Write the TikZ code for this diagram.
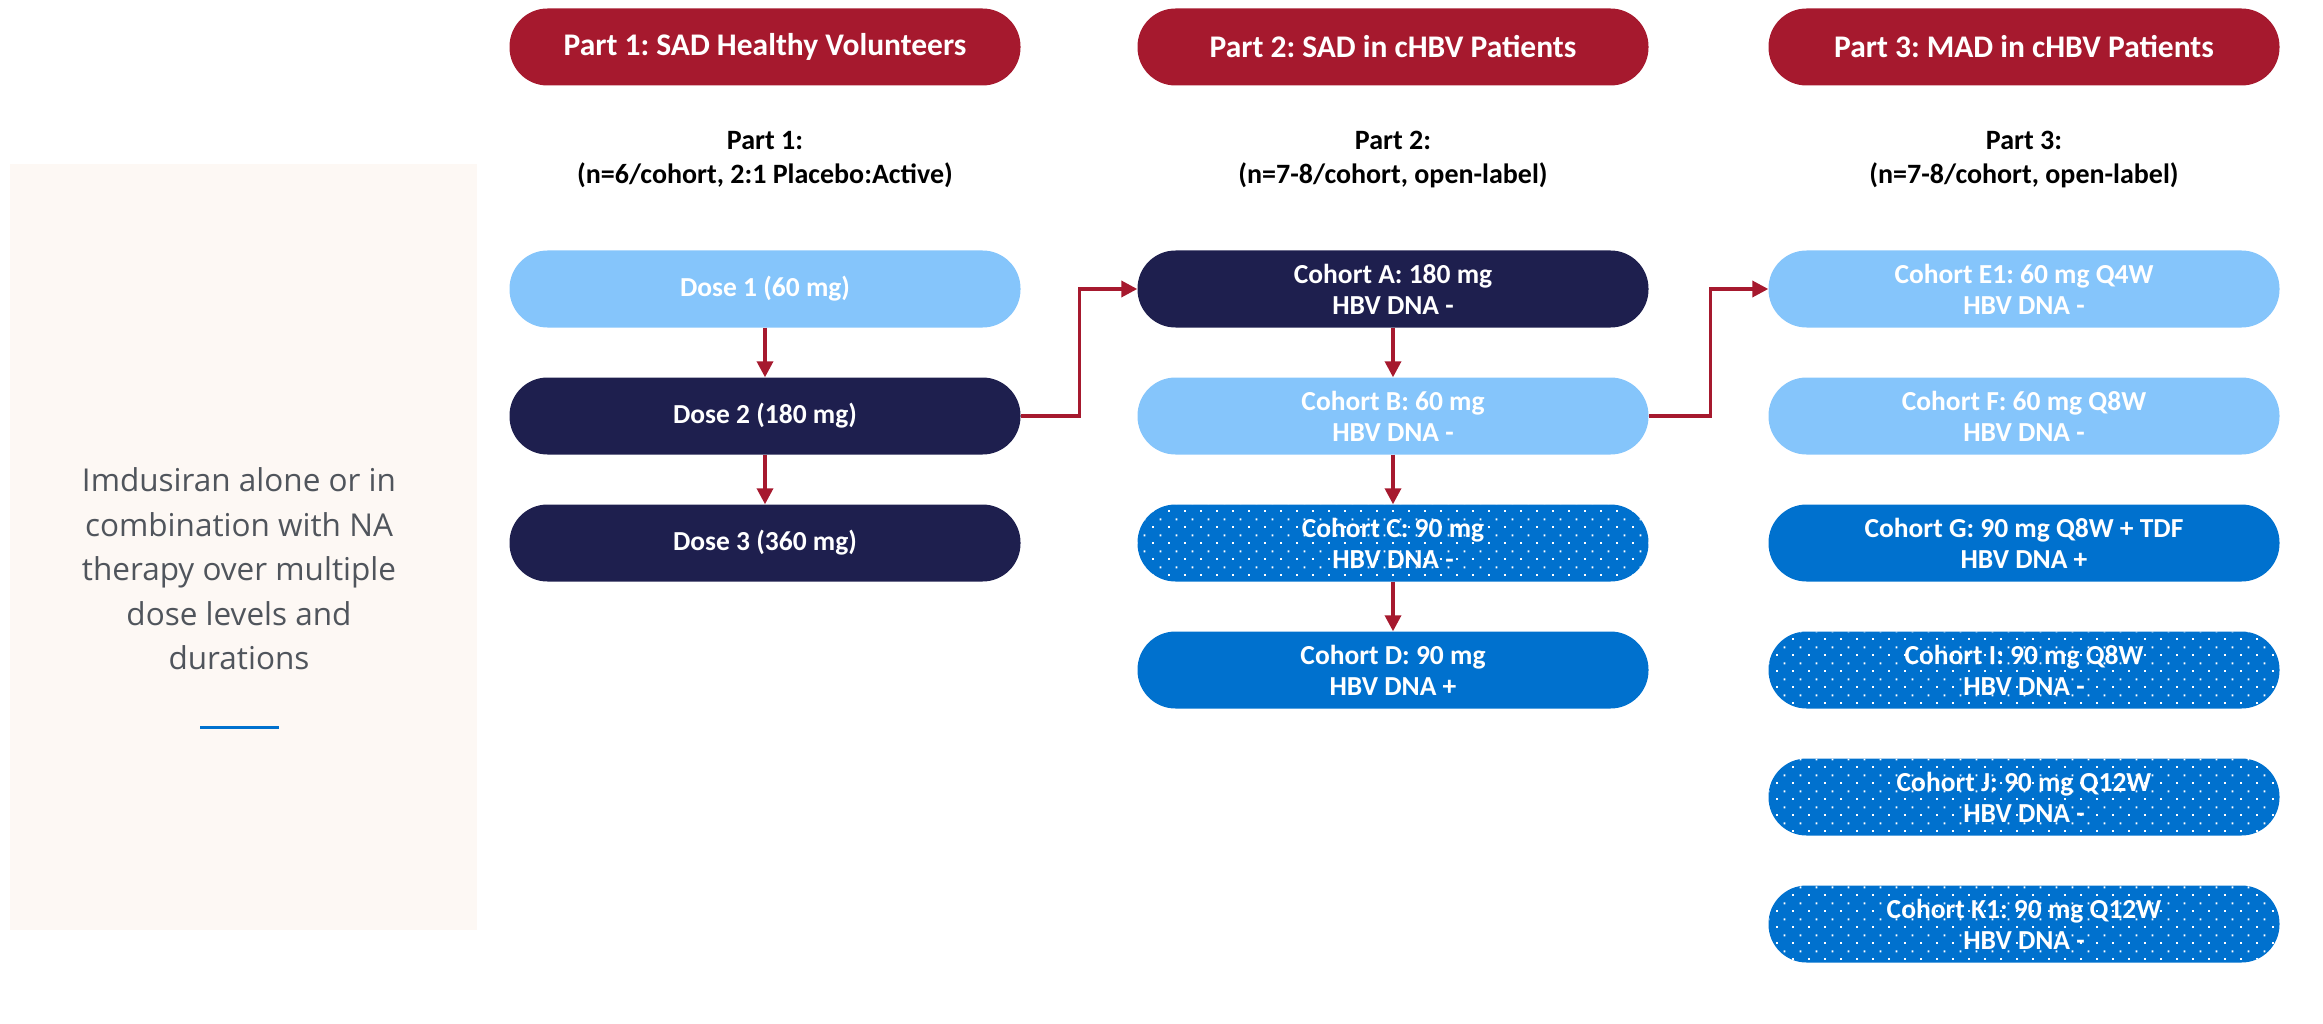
\documentclass[tikz,border=0pt]{standalone}
\usepackage{fontspec}
\setmainfont{Carlito}
\newfontfamily\sidefont{Open Sans}
\usetikzlibrary{arrows.meta,patterns.meta}
\frenchspacing

\definecolor{hdred}{RGB}{166,25,46}
\definecolor{navy}{RGB}{30,31,78}
\definecolor{skyblue}{RGB}{133,197,251}
\definecolor{midblue}{RGB}{0,113,206}
\definecolor{panel}{RGB}{253,248,244}
\definecolor{sidegray}{RGB}{80,85,92}

% white dot grid used on the speckled cohorts
\tikzdeclarepattern{
  name=dotgrid,
  type=uncolored,
  bounding box={(0pt,0pt) and (16pt,16pt)},
  tile size={(16pt,16pt)},
  code={
    \fill (0pt,0pt) rectangle (2pt,2pt);
    \fill (8pt,8pt) rectangle (10pt,10pt);
  }
}

\begin{document}
\begin{tikzpicture}[x=1pt,y=-1pt,
    pill/.style={rectangle,rounded corners=38pt,minimum width=511pt,minimum height=77pt,
      inner sep=0pt,text=white,align=center,font=\bfseries\fontsize{27.5}{31}\selectfont},
    head/.style={pill,fill=hdred,font=\bfseries\fontsize{31.5}{34}\selectfont},
    sub/.style={align=center,font=\bfseries\fontsize{28}{34}\selectfont},
    light/.style={pill,fill=skyblue},
    dark/.style={pill,fill=navy},
    mid/.style={pill,fill=midblue},
    speckled/.style={mid,postaction={pattern=dotgrid,pattern color=white}},
    link/.style={draw=hdred,line width=3.5pt,-{Triangle[width=16pt,length=16pt]}}]
  \useasboundingbox (0,0) rectangle (2323,1024);

  % side panel
  \fill[panel] (10,164) rectangle (477,930);
  \node[text=sidegray,align=center,font=\sidefont\fontsize{31.5}{44.5}\selectfont] (note) at (239,569)
    {Imdusiran alone or in\\combination with NA\\therapy over multiple\\dose levels and\\durations};
  \draw[midblue,line width=3pt] (200,727) -- (279,727);

  % headers
  \node[head] (h1) at (765,47) {Part 1: SAD Healthy Volunteers};
  \node[head] (h2) at (1393,47) {Part 2: SAD in cHBV Patients};
  \node[head] (h3) at (2024,47) {Part 3: MAD in cHBV Patients};

  \node[sub] (s1) at (765,160) {Part 1:\\(n=6/cohort, 2:1 Placebo:Active)};
  \node[sub] (s2) at (1393,160) {Part 2:\\(n=7-8/cohort, open-label)};
  \node[sub] (s3) at (2024,160) {Part 3:\\(n=7-8/cohort, open-label)};

  % part 1
  \node[light] (d1) at (765,289) {Dose 1 (60 mg)};
  \node[dark] (d2) at (765,416) {Dose 2 (180 mg)};
  \node[dark] (d3) at (765,543) {Dose 3 (360 mg)};

  % part 2
  \node[dark] (ca) at (1393,289) {Cohort A: 180 mg\\HBV DNA -};
  \node[light] (cb) at (1393,416) {Cohort B: 60 mg\\HBV DNA -};
  \node[speckled] (cc) at (1393,543) {Cohort C: 90 mg\\HBV DNA -};
  \node[mid] (cd) at (1393,670) {Cohort D: 90 mg\\HBV DNA +};

  % part 3
  \node[light] (ce) at (2024,289) {Cohort E1: 60 mg Q4W\\HBV DNA -};
  \node[light] (cf) at (2024,416) {Cohort F: 60 mg Q8W\\HBV DNA -};
  \node[mid] (cg) at (2024,543) {Cohort G: 90 mg Q8W + TDF\\HBV DNA +};
  \node[speckled] (ci) at (2024,670) {Cohort I: 90 mg Q8W\\HBV DNA -};
  \node[speckled] (cj) at (2024,797) {Cohort J: 90 mg Q12W\\HBV DNA -};
  \node[speckled] (ck) at (2024,924) {Cohort K1: 90 mg Q12W\\HBV DNA -};

  \draw[link] (d1) -- (d2);
  \draw[link] (d2) -- (d3);
  \draw[link] (d2.east) -- ++(59,0) |- (ca.west);
  \draw[link] (ca) -- (cb);
  \draw[link] (cb) -- (cc);
  \draw[link] (cc) -- (cd);
  \draw[link] (cb.east) -- ++(62,0) |- (ce.west);
\end{tikzpicture}
\end{document}
